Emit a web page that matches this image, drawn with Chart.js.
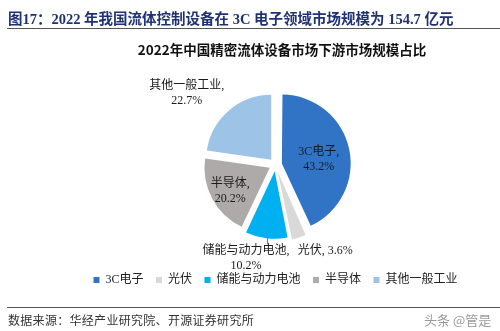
<!DOCTYPE html>
<html>
<head>
<meta charset="utf-8">
<script src="https://cdn.jsdelivr.net/npm/chart.js@4/dist/chart.umd.min.js"></script>
<style>
  html, body { margin: 0; padding: 0; background: #fff; }
  #wrap { position: relative; width: 500px; height: 331px; overflow: hidden; }
  #c { position: absolute; left: 0; top: 0; }
  .txt { position: absolute; white-space: nowrap; }
  #head { left: 8px; top: 7px; font: bold 14.5px 'Liberation Serif', 'Noto Sans CJK SC', serif; color: #1f3274; }
  #headRule { left: 7px; top: 28px; width: 493px; height: 0; border-top: 1.6px solid #555; }
  #title { left: 0; width: 564px; text-align: center; top: 39px; font: bold 13.5px 'Noto Sans CJK SC', sans-serif; color: #111; }
  #footRule { left: 7px; top: 307px; width: 493px; height: 0; border-top: 1.6px solid #555; }
  #src { left: 8px; top: 311px; font: 12px 'Noto Sans CJK SC', sans-serif; letter-spacing: 0.3px; color: #333; }
  #mark { left: 424px; top: 310px; font: 13px 'Noto Sans CJK SC', sans-serif; color: #9a9a9a; }
</style>
</head>
<body>
<div id="wrap">
  <canvas id="c" width="500" height="331"></canvas>
  <div class="txt" id="head">图17：2022 年我国流体控制设备在 3C 电子领域市场规模为 154.7 亿元</div>
  <div class="txt" id="headRule"></div>
  <div class="txt" id="title">2022年中国精密流体设备市场下游市场规模占比</div>
  <div class="txt" id="footRule"></div>
  <div class="txt" id="src">数据来源：华经产业研究院、开源证券研究所</div>
  <div class="txt" id="mark">头条 @管是</div>
</div>
<script>
// Downstream segments and their share of the market (%)
const categories = ['3C电子', '光伏', '储能与动力电池', '半导体', '其他一般工业'];
const shares = [43.2, 3.6, 10.2, 20.2, 22.7];
const colors = ['#3174c6', '#d9d9d9', '#00b0f0', '#aeaaaa', '#9dc3e6'];

// Where each slice's label sits: angle (deg, clockwise from 12 o'clock)
// and distance from the pie centre in units of the pie radius.
const labelPlacement = [
  { angle: 83, dist: 0.67, lines: 2 },
  { angle: 150, dist: 1.53, lines: 1 },
  { angle: 197.4, dist: 1.515, lines: 2, leader: true },
  { angle: 239.5, dist: 0.81, lines: 2 },
  { angle: 309, dist: 1.755, lines: 2 }
];

const labelFont = "12px 'Liberation Serif', 'Noto Sans CJK SC', serif";

const sliceLabels = {
  id: 'sliceLabels',
  afterDatasetsDraw(chart) {
    const meta = chart.getDatasetMeta(0);
    const ctx = chart.ctx;
    ctx.save();
    ctx.font = labelFont;
    ctx.fillStyle = '#1a1a1a';
    ctx.textAlign = 'center';
    ctx.textBaseline = 'middle';
    const lh = 15;
    meta.data.forEach((arc, i) => {
      const p = labelPlacement[i];
      const R = arc.outerRadius;
      const a = (p.angle - 90) * Math.PI / 180;
      const cx = arc.x + Math.cos(a) * R * p.dist;
      const cy = arc.y + Math.sin(a) * R * p.dist;
      const pct = shares[i].toFixed(1) + '%';
      if (p.lines === 1) {
        ctx.fillText(categories[i] + ', ' + pct, cx, cy);
      } else {
        ctx.fillText(categories[i] + ',', cx, cy - lh / 2);
        ctx.fillText(pct, cx, cy + lh / 2);
      }
      if (p.leader) {
        const mid = (arc.startAngle + arc.endAngle) / 2;
        const shift = (arc.options.offset || 0) / 4;
        const ex = arc.x + Math.cos(mid) * (R + shift + 1);
        const ey = arc.y + Math.sin(mid) * (R + shift + 1);
        ctx.strokeStyle = '#777';
        ctx.lineWidth = 1;
        ctx.beginPath();
        ctx.moveTo(Math.round(ex) + 0.5, ey);
        ctx.lineTo(Math.round(ex) + 0.5, cy - lh / 2 - 7);
        ctx.stroke();
      }
    });
    ctx.restore();
  }
};

new Chart(document.getElementById('c'), {
  type: 'pie',
  data: {
    labels: categories,
    datasets: [{
      data: shares,
      backgroundColor: colors,
      borderWidth: 0,
      offset: 26
    }]
  },
  options: {
    responsive: false,
    animation: false,
    radius: 65,
    layout: { padding: { top: 68, bottom: 35, left: 55, right: 4 } },
    plugins: {
      tooltip: { enabled: false },
      legend: {
        position: 'bottom',
        labels: {
          boxWidth: 6,
          boxHeight: 6,
          padding: 12.5,
          color: '#222',
          font: { size: 12, family: "'Liberation Serif', 'Noto Sans CJK SC', serif" }
        }
      }
    }
  },
  plugins: [sliceLabels]
});
</script>
</body>
</html>
